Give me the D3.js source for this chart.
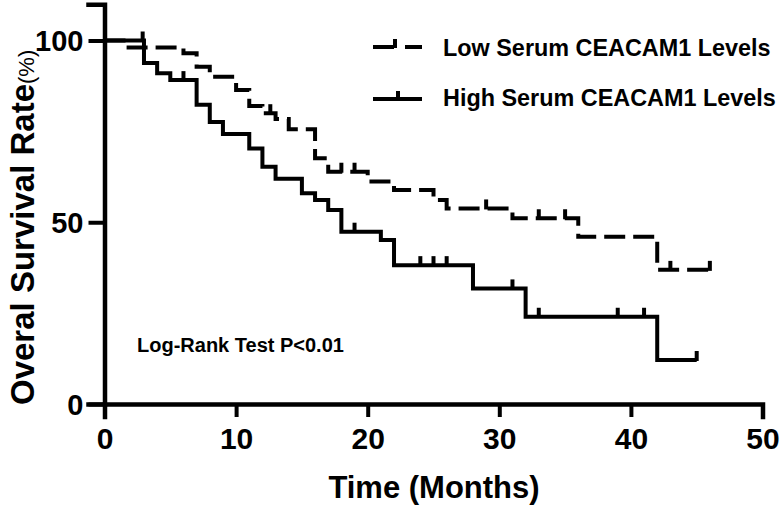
<!DOCTYPE html>
<html>
<head>
<meta charset="utf-8">
<script src="https://cdn.jsdelivr.net/npm/d3@7"></script>
<style>
  html, body { margin: 0; padding: 0; background: #fff; }
  svg { display: block; }
  text { font-family: "Liberation Sans", Arial, sans-serif; fill: #000; }
</style>
</head>
<body>
<svg id="chart" width="782" height="510"></svg>
<script>
// ---- data ----
const seriesNames = ["Low Serum CEACAM1 Levels", "High Serum CEACAM1 Levels"];
const timesLow  = [0, 1.6, 6, 7, 8, 10, 11, 12, 13, 14, 16, 17, 20, 22, 25, 26, 31, 36, 42, 46];
const survLow   = [100, 98.1, 96.5, 92.8, 90.0, 86.4, 82.0, 80.0, 78.4, 75.6, 67.6, 63.9, 61.2, 58.9, 56.1, 53.8, 51.1, 46.0, 36.9, 36.9];
const censorLow = [12.6, 18, 19, 29, 33, 35, 43, 46];
const timesHigh  = [0, 3, 4, 5, 7, 8, 9, 11, 12, 13, 15, 16, 17, 18, 21, 22, 28, 32, 42, 45];
const survHigh   = [100, 93.8, 91.0, 89.1, 82.3, 77.6, 74.3, 70.3, 65.3, 62.0, 58.0, 56.1, 53.4, 47.4, 45.1, 38.2, 31.8, 24.0, 12.1, 12.1];
const censorHigh = [2.9, 6, 19, 24, 25, 26, 31, 33, 39, 41, 45];
const xTicks = [0, 10, 20, 30, 40, 50];
const yTicks = [0, 50, 100];
const annotation = "Log-Rank Test P<0.01";

const svg = d3.select("#chart");
svg.append("rect").attr("width", 782).attr("height", 510).attr("fill", "#fff");

const x = d3.scaleLinear().domain([0, 50]).range([104.5, 762.5]);
const y = d3.scaleLinear().domain([0, 110]).range([404, 404 - 110 * 3.635]);

const LW = 4;

// axes
const xAxis = svg.append("g").attr("transform", `translate(0,${y(0)})`)
  .call(d3.axisBottom(x).tickValues(xTicks).tickSizeOuter(0).tickSize(13).tickPadding(11));
const yAxis = svg.append("g").attr("transform", `translate(${x(0)},0)`)
  .call(d3.axisLeft(y).tickValues(yTicks).tickSizeOuter(0).tickSize(16).tickPadding(5));
[xAxis, yAxis].forEach(g => {
  g.select(".domain").attr("stroke", "#000").attr("stroke-width", 4.5).attr("stroke-linecap", "square");
  g.selectAll(".tick line").attr("stroke", "#000").attr("stroke-width", 4);
  g.selectAll(".tick text").attr("fill", "#000")
    .style("font-family", '"Liberation Sans", Arial, sans-serif')
    .style("font-weight", "bold").style("font-size", "30px");
});
yAxis.selectAll(".tick text").attr("dy", "0.36em").style("font-size", "29px");

// step curves
function stepValue(times, surv, t) {
  let v = surv[0];
  for (let i = 0; i < times.length; i++) if (times[i] <= t) v = surv[i];
  return v;
}
const line = d3.line().x(d => x(d[0])).y(d => y(d[1])).curve(d3.curveStepAfter);

const groups = [
  { times: timesLow, surv: survLow, censor: censorLow, dash: "21 8" },
  { times: timesHigh, surv: survHigh, censor: censorHigh, dash: null }
];
groups.forEach(gr => {
  const pts = gr.times.map((t, i) => [t, gr.surv[i]]);
  const p = svg.append("path").attr("d", line(pts))
    .attr("fill", "none").attr("stroke", "#000").attr("stroke-width", LW)
    .attr("stroke-linejoin", "miter");
  if (gr.dash) p.attr("stroke-dasharray", gr.dash);
  svg.append("g").selectAll("line").data(gr.censor).join("line")
    .attr("x1", d => x(d)).attr("x2", d => x(d))
    .attr("y1", d => y(stepValue(gr.times, gr.surv, d)) + 1)
    .attr("y2", d => y(stepValue(gr.times, gr.surv, d)) - 9)
    .attr("stroke", "#000").attr("stroke-width", LW);
});

// legend
const legend = svg.append("g");
const legY = [47, 99];
const legBase = [56, 106];
seriesNames.forEach((name, i) => {
  const ln = legend.append("line").attr("x1", 373).attr("x2", 422)
    .attr("y1", legY[i]).attr("y2", legY[i])
    .attr("stroke", "#000").attr("stroke-width", LW);
  if (i === 0) ln.attr("stroke-dasharray", "21 11");
  legend.append("line").attr("x1", i === 0 ? 395 : 398).attr("x2", i === 0 ? 395 : 398)
    .attr("y1", legY[i] + 1).attr("y2", legY[i] - 8)
    .attr("stroke", "#000").attr("stroke-width", LW);
  legend.append("text").attr("x", 443).attr("y", legBase[i])
    .style("font-weight", "bold").style("font-size", "23.4px").text(name);
});

// annotation
svg.append("text").attr("x", 137).attr("y", 352)
  .style("font-weight", "bold").style("font-size", "20px").text(annotation);

// axis titles
svg.append("text").attr("x", 434).attr("y", 498).attr("text-anchor", "middle")
  .style("font-weight", "bold").style("font-size", "31px").text("Time (Months)");

const yt = svg.append("text").attr("transform", "translate(34,405) rotate(-90)");
yt.append("tspan").style("font-weight", "bold").style("font-size", "33px").text("Overal Survival Rate");
yt.append("tspan").style("font-weight", "normal").style("font-size", "22px").text("(%)");
</script>
</body>
</html>
